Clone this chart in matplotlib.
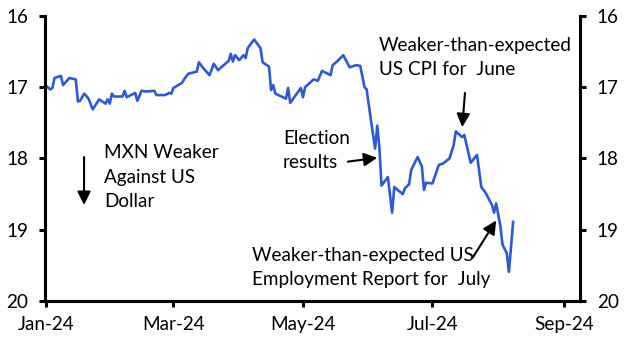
import pandas as pd
import matplotlib
matplotlib.use("Agg")
import matplotlib.pyplot as plt
import matplotlib.dates as mdates

plt.rcParams['font.family'] = ['Lato', 'DejaVu Sans']

# USD/MXN (inverted axis)
dates = [
    "2024-01-01", "2024-01-03", "2024-01-04", "2024-01-05", "2024-01-08", "2024-01-09",
    "2024-01-12", "2024-01-15", "2024-01-16", "2024-01-17", "2024-01-19", "2024-01-21",
    "2024-01-23", "2024-01-26", "2024-01-29", "2024-01-30", "2024-01-31", "2024-02-01",
    "2024-02-02", "2024-02-06", "2024-02-07", "2024-02-08", "2024-02-12", "2024-02-13",
    "2024-02-15", "2024-02-17", "2024-02-21", "2024-02-22", "2024-02-26", "2024-02-28",
    "2024-02-29", "2024-03-01", "2024-03-05", "2024-03-06", "2024-03-08", "2024-03-12",
    "2024-03-13", "2024-03-15", "2024-03-18", "2024-03-20", "2024-03-22", "2024-03-27",
    "2024-03-28", "2024-03-29", "2024-03-30", "2024-04-01", "2024-04-03", "2024-04-04",
    "2024-04-05", "2024-04-08", "2024-04-11", "2024-04-12", "2024-04-15", "2024-04-16",
    "2024-04-17", "2024-04-18", "2024-04-23", "2024-04-24", "2024-04-25", "2024-04-30",
    "2024-05-01", "2024-05-02", "2024-05-06", "2024-05-08", "2024-05-10", "2024-05-14",
    "2024-05-15", "2024-05-17", "2024-05-20", "2024-05-23", "2024-05-26", "2024-05-28",
    "2024-05-30", "2024-05-31", "2024-06-02", "2024-06-04", "2024-06-05", "2024-06-06",
    "2024-06-07", "2024-06-10", "2024-06-12", "2024-06-13", "2024-06-17", "2024-06-18",
    "2024-06-20", "2024-06-21", "2024-06-24", "2024-06-26", "2024-06-27", "2024-06-28",
    "2024-07-01", "2024-07-04", "2024-07-06", "2024-07-09", "2024-07-11", "2024-07-12",
    "2024-07-15", "2024-07-16", "2024-07-19", "2024-07-22", "2024-07-24", "2024-07-26",
    "2024-07-29", "2024-07-30", "2024-07-31", "2024-08-02", "2024-08-03", "2024-08-05",
    "2024-08-06", "2024-08-08",
]
usdmxn = [
    16.98, 17.03, 17.01, 16.87, 16.84, 16.97,
    16.87, 16.89, 17.20, 17.19, 17.09, 17.16,
    17.31, 17.17, 17.23, 17.17, 17.23, 17.09,
    17.13, 17.13, 17.05, 17.14, 17.08, 17.19,
    17.05, 17.06, 17.05, 17.11, 17.11, 17.08,
    17.09, 17.01, 16.94, 16.89, 16.81, 16.78,
    16.65, 16.73, 16.83, 16.67, 16.76, 16.63,
    16.53, 16.64, 16.55, 16.62, 16.55, 16.59,
    16.45, 16.33, 16.45, 16.65, 16.71, 17.04,
    16.97, 17.09, 17.16, 17.01, 17.22, 17.01,
    17.14, 17.00, 16.89, 16.91, 16.77, 16.83,
    16.69, 16.64, 16.55, 16.72, 16.69, 16.70,
    17.00, 17.03, 17.46, 17.86, 17.54, 17.85,
    18.38, 18.26, 18.76, 18.40, 18.50, 18.42,
    18.36, 18.16, 17.98, 18.11, 18.44, 18.34,
    18.35, 18.09, 18.07, 18.00, 17.81, 17.62,
    17.70, 17.67, 18.06, 17.95, 18.40, 18.48,
    18.65, 18.76, 18.63, 18.95, 19.21, 19.33,
    19.59, 18.89,
]

x = pd.to_datetime(dates)

fig = plt.figure(figsize=(6.31, 3.53), dpi=100)
ax = fig.add_axes([0.0713, 0.1473, 0.8479, 0.8074])

ax.plot(x, usdmxn, color='#2a5bd7', lw=1.9, solid_joinstyle='round')

ax.set_ylim(20, 16)
ax.set_yticks([16, 17, 18, 19, 20])
ax.set_xlim(pd.Timestamp("2023-12-31 12:00"), pd.Timestamp("2024-09-08 12:00"))
ax.xaxis.set_major_locator(mdates.MonthLocator(bymonth=[1, 3, 5, 7, 9]))
ax.xaxis.set_major_formatter(mdates.DateFormatter('%b-%y'))

ax2 = ax.twinx()
ax2.set_ylim(20, 16)
ax2.set_yticks([16, 17, 18, 19, 20])

for a in (ax, ax2):
    a.spines['top'].set_visible(False)
    for s in a.spines.values():
        s.set_linewidth(2.2)
    a.tick_params(width=2.2, length=4.5, labelsize=13.6, pad=7.5)
ax.tick_params(axis='x', pad=6.5)

fs = 13.6
ls = 1.52
arrow = dict(arrowstyle='-|>', color='black', lw=1.5, mutation_scale=20,
             shrinkA=0, shrinkB=0)

# annotations (text placed by baseline of last line)
ax.text(0.110, 0.330, "MXN Weaker\nAgainst US\nDollar", transform=ax.transAxes,
        fontsize=fs, va='baseline', ha='left', linespacing=ls)
ax.annotate('', xy=(0.073, 0.337), xytext=(0.073, 0.505),
            xycoords='axes fraction', textcoords='axes fraction', arrowprops=arrow)

ax.text(0.445, 0.467, "Election\nresults", transform=ax.transAxes,
        fontsize=fs, va='baseline', ha='left', linespacing=ls)
ax.annotate('', xy=(mdates.date2num(pd.Timestamp("2024-06-05")), 17.99),
            xytext=(0.566, 0.489), textcoords='axes fraction', arrowprops=arrow)

ax.text(0.624, 0.793, "Weaker-than-expected\nUS CPI for  June", transform=ax.transAxes,
        fontsize=fs, va='baseline', ha='left', linespacing=ls)
ax.annotate('', xy=(mdates.date2num(pd.Timestamp("2024-07-15")), 17.56),
            xytext=(0.785, 0.730), textcoords='axes fraction', arrowprops=arrow)

ax.text(0.387, 0.056, "Weaker-than-expected US\nEmployment Report for  July", transform=ax.transAxes,
        fontsize=fs, va='baseline', ha='left', linespacing=ls)
ax.annotate('', xy=(mdates.date2num(pd.Timestamp("2024-07-31")), 18.87),
            xytext=(0.799, 0.151), textcoords='axes fraction', arrowprops=arrow)

fig.savefig('out.png', dpi=100)
